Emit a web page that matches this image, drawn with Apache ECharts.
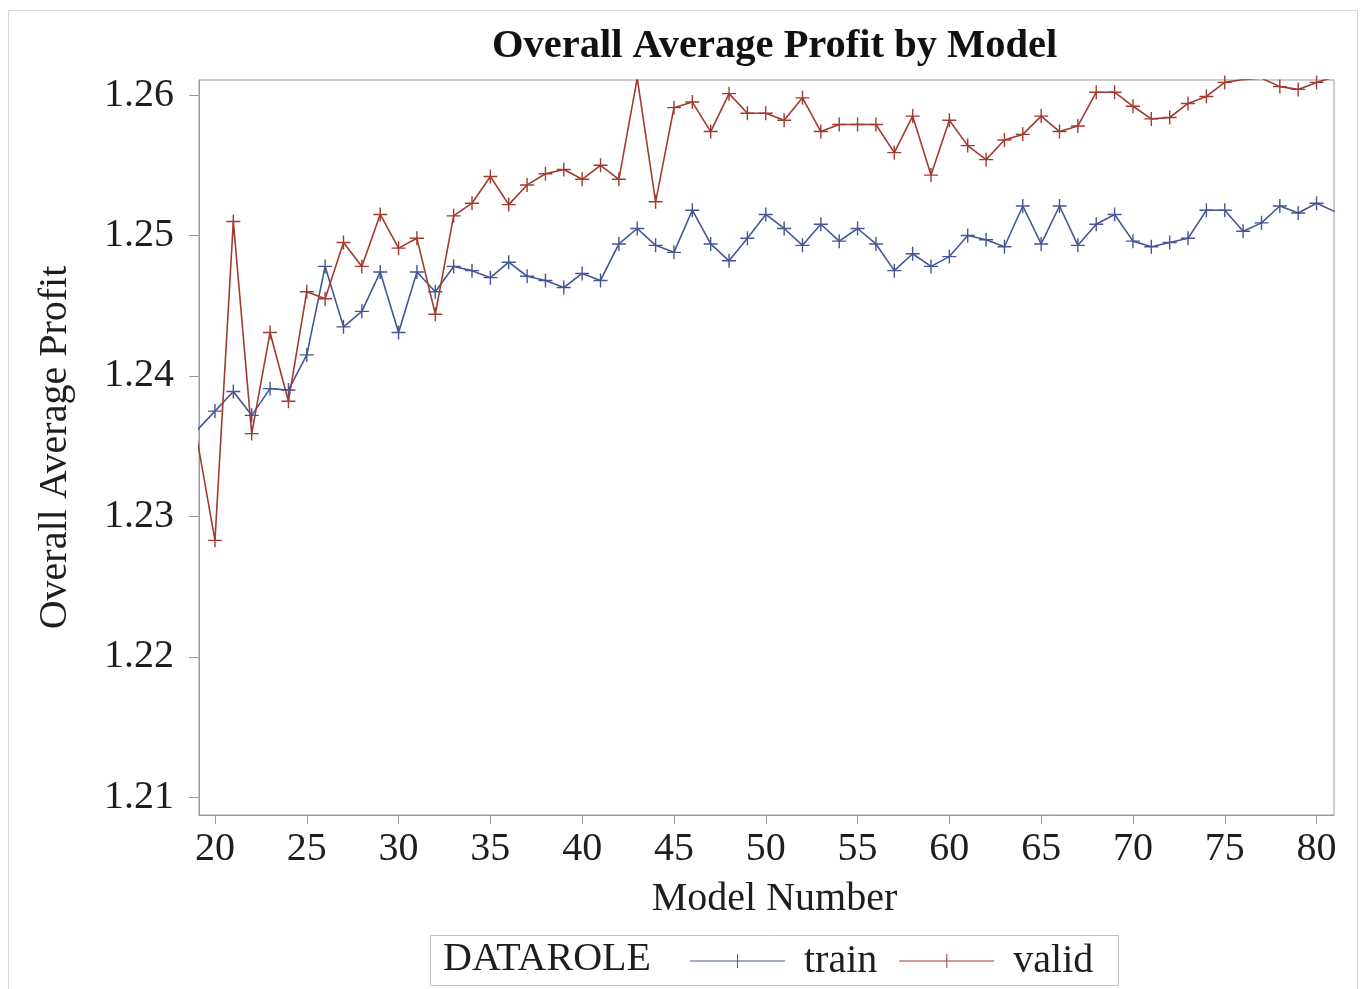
<!DOCTYPE html>
<html>
<head>
<meta charset="utf-8">
<script src="https://cdn.jsdelivr.net/npm/echarts@6/dist/echarts.min.js"></script>
<style>
  html, body { margin: 0; padding: 0; background: #ffffff; }
  #chart { width: 1362px; height: 989px; }
</style>
</head>
<body>
<div id="chart"></div>
<script>
// ---- data ----
const models = [19,20,21,22,23,24,25,26,27,28,29,30,31,32,33,34,35,36,37,38,39,40,41,42,43,44,45,46,47,48,49,50,
  51,52,53,54,55,56,57,58,59,60,61,62,63,64,65,66,67,68,69,70,71,72,73,74,75,76,77,78,79,80,81];

const trainProfit = [1.2361,1.2375,1.2389,1.2372,1.2391,1.2390,1.2415,1.2478,1.2435,1.2446,1.2474,1.2431,1.2474,1.2460,
  1.2478,1.2475,1.2470,1.2481,1.2471,1.2468,1.2463,1.2473,1.2468,1.2494,1.2505,1.2493,1.2488,1.2518,1.2494,1.2482,
  1.2498,1.2515,1.2505,1.2493,1.2508,1.2496,1.2505,1.2494,1.2475,1.2487,1.2478,1.2485,1.2500,1.2497,1.2492,1.2521,
  1.2494,1.2521,1.2493,1.2508,1.2515,1.2496,1.2492,1.2495,1.2498,1.2518,1.2518,1.2503,1.2509,1.2521,1.2516,1.2523,1.2517];

const validProfit = [1.2357,1.2283,1.2510,1.2359,1.2431,1.2382,1.2460,1.2455,1.2495,1.2478,1.2515,1.2491,1.2498,1.2444,
  1.2514,1.2523,1.2542,1.2522,1.2536,1.2544,1.2547,1.2540,1.2550,1.2540,1.2612,1.2524,1.2591,1.2595,1.2574,1.2601,
  1.2587,1.2587,1.2582,1.2598,1.2574,1.2579,1.2579,1.2579,1.2559,1.2585,1.2543,1.2582,1.2564,1.2554,1.2568,1.2572,
  1.2585,1.2574,1.2578,1.2602,1.2602,1.2592,1.2583,1.2584,1.2594,1.2599,1.2609,1.2611,1.2612,1.2606,1.2604,1.2609,1.2613];

const xTicks = [20,25,30,35,40,45,50,55,60,65,70,75,80];
const yTicks = [1.21,1.22,1.23,1.24,1.25,1.26];
const seriesNames = ['train','valid'];

// ---- styling ----
const FONT = '"Liberation Serif", "Times New Roman", serif';
const TXT = '#1e1e1e';
const AX = '#9a9a9a';
const C_TRAIN = '#445694';
const C_VALID = '#A23A2E';
const PLUS = 'path://M0,6.3 H14 V7.7 H0 Z M6.3,0 H7.7 V14 H6.3 Z';

function pairs(vals) { return models.map((m, i) => [m, vals[i]]); }

const chart = echarts.init(document.getElementById('chart'), null, { renderer: 'canvas' });

chart.setOption({
  backgroundColor: '#ffffff',
  animation: false,
  title: {
    text: 'Overall Average Profit by Model',
    left: 492, top: 26, padding: 0,
    textStyle: { fontFamily: FONT, fontWeight: 'bold', fontSize: 40.5, color: '#111' }
  },
  grid: {
    left: 199, right: 28, top: 80, bottom: 174,
    show: true, borderColor: AX, borderWidth: 1, backgroundColor: '#fff'
  },
  xAxis: {
    type: 'value',
    min: 19.13, max: 80.95,
    name: 'Model Number',
    nameLocation: 'middle',
    nameGap: 64,
    nameTextStyle: { fontFamily: FONT, fontSize: 40, color: TXT, padding: [0, 0, 0, 16] },
    axisLine: { show: true, lineStyle: { color: AX, width: 1 } },
    axisTick: { show: true, inside: false, length: 9, lineStyle: { color: AX }, customValues: xTicks },
    axisLabel: {
      fontFamily: FONT, fontSize: 40, color: TXT, margin: 14,
      customValues: xTicks, formatter: v => String(v)
    },
    splitLine: { show: false }
  },
  yAxis: {
    type: 'value',
    min: 1.20875, max: 1.26107,
    name: 'Overall Average Profit',
    nameLocation: 'middle',
    nameGap: 124,
    nameTextStyle: { fontFamily: FONT, fontSize: 40, color: TXT },
    axisLine: { show: true, lineStyle: { color: AX, width: 1 } },
    axisTick: { show: true, inside: false, length: 10, lineStyle: { color: AX }, customValues: yTicks },
    axisLabel: {
      fontFamily: FONT, fontSize: 40, color: TXT, margin: 25,
      customValues: yTicks, formatter: v => Number(v).toFixed(2)
    },
    splitLine: { show: false }
  },
  legend: {
    data: seriesNames,
    left: 690, top: 941,
    itemWidth: 95, itemHeight: 14, itemGap: 22,
    icon: 'path://M0,6.5 H95 V7.5 H0 Z M47,0 H48 V14 H47 Z',
    textStyle: { fontFamily: FONT, fontSize: 40, color: TXT, padding: [0, 0, 0, 14] },
    padding: 0
  },
  graphic: [
    { type: 'rect', shape: { x: 8.5, y: 10.5, width: 1349, height: 990 },
      style: { fill: 'none', stroke: '#d6d6d6', lineWidth: 1 }, silent: true, z: -1 },
    { type: 'rect', shape: { x: 430.5, y: 935.5, width: 688, height: 50 },
      style: { fill: 'none', stroke: '#c4c4c4', lineWidth: 1 }, silent: true },
    { type: 'text', left: 443, top: 939,
      style: { text: 'DATAROLE', fontFamily: FONT, fontSize: 40, fill: TXT } }
  ],
  series: [
    {
      name: 'train', type: 'line', data: pairs(trainProfit),
      symbol: PLUS, symbolSize: 14, showAllSymbol: true, clip: true,
      itemStyle: { color: C_TRAIN },
      lineStyle: { color: C_TRAIN, width: 1.6 }
    },
    {
      name: 'valid', type: 'line', data: pairs(validProfit),
      symbol: PLUS, symbolSize: 14, showAllSymbol: true, clip: true,
      itemStyle: { color: C_VALID },
      lineStyle: { color: C_VALID, width: 1.6 }
    }
  ]
});
</script>
</body>
</html>
